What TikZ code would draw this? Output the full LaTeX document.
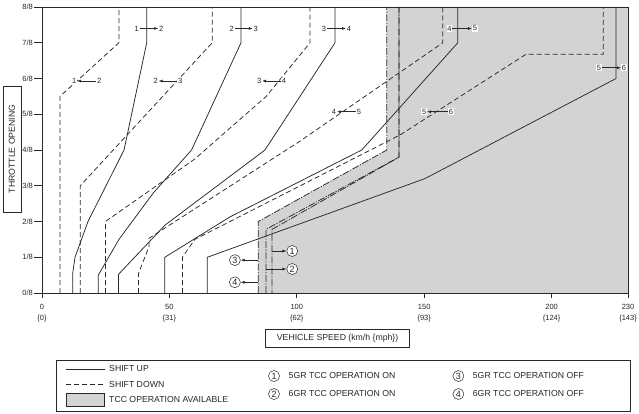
\documentclass[tikz,border=0pt]{standalone}
\usepackage{fontspec}
\setmainfont{Liberation Sans}
\usetikzlibrary{arrows.meta}
\definecolor{tccgray}{RGB}{211,211,211}
\definecolor{ink}{RGB}{40,40,40}
\tikzset{
  shiftup/.style={draw=ink, line width=0.75pt},
  shiftdown/.style={draw=ink, line width=0.75pt, dash pattern=on 5pt off 3pt},
  tccline/.style={draw=ink, line width=0.75pt, dash pattern=on 7pt off 1.5pt on 1.2pt off 1.5pt},
  dig/.style={fill=white, inner sep=0.7pt, text=ink, font=\fontsize{7.5}{8}\selectfont},
  sarrow/.style={-{Latex[length=4pt,width=3pt]}, line width=0.6pt, draw=ink},
  circ/.style={circle, draw=ink, fill=white, line width=0.5pt, inner sep=0pt, minimum size=11pt, text=ink, font=\fontsize{9}{9}\selectfont},
  lbl/.style={font=\fontsize{8.7}{10}\selectfont, inner sep=0pt, text=ink},
  ticklbl/.style={font=\fontsize{7.5}{8}\selectfont, inner sep=0pt, text=ink},
  framebox/.style={draw=ink, line width=0.8pt},
}
\begin{document}
\begin{tikzpicture}[x=1pt,y=-1pt]
\useasboundingbox (0,0) rectangle (639,414);
\fill[white] (0,0) rectangle (639,414);

\begin{scope}[shift={(42pt,-293pt)}, x=2.548pt, y=35.75pt]
  % TCC operation area
  \fill[tccgray] (84.9,0) -- (84.9,2) -- (135.3,4) -- (135.3,8) -- (230,8) -- (230,0) -- cycle;

  % shift down lines
  \draw[shiftdown] (7.06,0) -- (7.06,5.5) -- (30.2,7) -- (30.2,8);
  \draw[shiftdown] (15,0) -- (15,3) -- (66.8,7) -- (66.8,8);
  \draw[shiftdown] (24.9,0) -- (24.9,2) -- (60,3.75) -- (88,5.5) -- (105.2,7) -- (105.2,8);
  \draw[shiftdown] (37.9,0) -- (37.9,0.55) -- (42,1.3) -- (42,1.53) -- (101.3,4.25) -- (157.3,7) -- (157.3,8);
  \draw[shiftdown] (55.1,0) -- (55.1,1) -- (60,1.5) -- (140.5,4.42) -- (190,6.68) -- (220.3,6.68) -- (220.3,8);

  % shift up lines
  \draw[shiftup] (12.05,0) -- (12.05,0.55) -- (12.95,1) -- (18.05,2) -- (32.2,4) -- (41.1,7) -- (41.1,8);
  \draw[shiftup] (22.1,0) -- (22.1,0.5) -- (30.2,1.5) -- (43.7,2.8) -- (58.7,4) -- (78.1,7) -- (78.1,8);
  \draw[shiftup] (30,0) -- (30,0.52) -- (48.3,1.9) -- (87.5,4) -- (115,7) -- (115,8);
  \draw[shiftup] (48.2,0) -- (48.2,1) -- (73.8,2.13) -- (125.5,4) -- (163.2,7) -- (163.2,8);
  \draw[shiftup] (64.9,0) -- (64.9,1) -- (150.3,3.2) -- (225.3,6) -- (225.3,8);

  % TCC lines
  \draw[tccline] (84.9,0) -- (84.9,2) -- (135.3,4) -- (135.3,8);
  \draw[tccline] (87.9,0) -- (87.9,1.78) -- (140.1,3.8) -- (140.1,8);
  \draw[tccline, dash phase=4pt] (90.3,0) -- (90.3,1.78) -- (140.1,3.8) -- (140.1,8);

  % frame
  \draw[framebox] (0,0) rectangle (230,8);

  % y axis ticks and labels
  \foreach \i in {0,...,8} {
    \draw[ink, line width=0.7pt] (0,\i) -- ++(-8pt,0pt);
    \node[ticklbl, anchor=east, xshift=-9pt] (yl\i) at (0,\i) {\i/8};
  }
  % x axis ticks and labels
  \foreach \v/\m in {0/0,50/31,100/62,150/93,200/124,230/143} {
    \draw[ink, line width=0.7pt] (\v,0) -- ++(0pt,-5pt);
    \node[ticklbl, yshift=-14pt] (xl\v) at (\v,0) {\v};
    \node[ticklbl, yshift=-26pt] (xm\v) at (\v,0) {\{\m\}};
  }

  % shift labels
  \node[dig] (a12) at (37.2,7.4) {1};   \node[dig] (b12) at (46.8,7.4) {2};   \draw[sarrow] (a12) -- (b12);
  \node[dig] (a21) at (12.6,5.93) {1};  \node[dig] (b21) at (22.5,5.93) {2};  \draw[sarrow] (b21) -- (a21);
  \node[dig] (a23) at (74.5,7.4) {2};   \node[dig] (b23) at (83.9,7.4) {3};   \draw[sarrow] (a23) -- (b23);
  \node[dig] (a32) at (44.6,5.93) {2};  \node[dig] (b32) at (54.2,5.93) {3};  \draw[sarrow] (b32) -- (a32);
  \node[dig] (a34) at (110.7,7.4) {3};  \node[dig] (b34) at (120.5,7.4) {4};  \draw[sarrow] (a34) -- (b34);
  \node[dig] (a43) at (85.2,5.93) {3};  \node[dig] (b43) at (95,5.93) {4};    \draw[sarrow] (b43) -- (a43);
  \node[dig] (a45) at (159.9,7.4) {4};  \node[dig] (b45) at (169.9,7.4) {5};  \draw[sarrow] (a45) -- (b45);
  \node[dig] (a54) at (114.6,5.07) {4}; \node[dig] (b54) at (124.4,5.07) {5}; \draw[sarrow] (b54) -- (a54);
  \node[dig] (a65) at (150,5.07) {5};   \node[dig] (b65) at (160.5,5.07) {6}; \draw[sarrow] (b65) -- (a65);
  \node[dig] (a56) at (218.6,6.3) {5};  \node[dig] (b56) at (228.4,6.3) {6};  \draw[sarrow] (a56) -- (b56);

  % TCC markers
  \coordinate (t1) at (90.3,1.175);
  \coordinate (t2) at (87.9,0.671);
  \coordinate (t3) at (84.9,0.92);
  \coordinate (t4) at (84.9,0.30);
  \node[circ] (c1) at (98.2,1.175) {1};
  \node[circ] (c2) at (98.2,0.671) {2};
  \node[circ] (c3) at (75.7,0.92) {3};
  \node[circ] (c4) at (75.7,0.30) {4};
  \draw[sarrow] (t1) -- (c1);
  \draw[sarrow] (t2) -- (c2);
  \draw[sarrow] (t3) -- (c3);
  \draw[sarrow] (t4) -- (c4);
\end{scope}

% axis titles
\node[framebox, lbl, rotate=90, minimum width=126pt, minimum height=18pt, inner sep=0pt] (thr) at (12,149) {THROTTLE OPENING};
\node[framebox, lbl, minimum width=144pt, minimum height=18pt, inner sep=0pt] (vsp) at (337.6,338.3) {VEHICLE SPEED (km/h \{mph\})};

% legend
\node[framebox, minimum width=574pt, minimum height=51pt, inner sep=0pt] (leg) at (343,385.5) {};
\draw[shiftup] (66,369) -- (105,369);
\node[lbl, anchor=west] (lup) at (109,369) {SHIFT UP};
\draw[shiftdown] (66,384.3) -- (105,384.3);
\node[lbl, anchor=west] (ldn) at (109,384.3) {SHIFT DOWN};
\node[draw=ink, fill=tccgray, line width=0.7pt, minimum width=38pt, minimum height=13pt, inner sep=0pt] (lgray) at (85,400) {};
\node[lbl, anchor=west] (ltcc) at (109,400) {TCC OPERATION AVAILABLE};
\node[circ] (l1) at (274,376) {1};
\node[lbl, anchor=west] (l1t) at (288.5,376) {5GR TCC OPERATION ON};
\node[circ] (l2) at (274,394) {2};
\node[lbl, anchor=west] (l2t) at (288.5,394) {6GR TCC OPERATION ON};
\node[circ] (l3) at (458.4,376) {3};
\node[lbl, anchor=west] (l3t) at (472.7,376) {5GR TCC OPERATION OFF};
\node[circ] (l4) at (458.4,394) {4};
\node[lbl, anchor=west] (l4t) at (472.7,394) {6GR TCC OPERATION OFF};
\end{tikzpicture}
\end{document}
